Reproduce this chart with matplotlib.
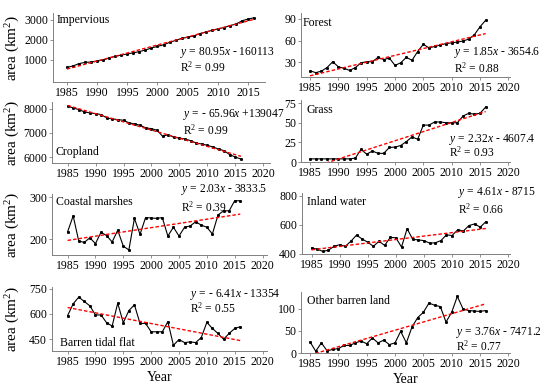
import numpy as np
import matplotlib
matplotlib.use("Agg")
from matplotlib import pyplot as plt

plt.rcParams['font.family'] = 'Liberation Serif'
plt.rcParams['mathtext.fontset'] = 'custom'
plt.rcParams['mathtext.rm'] = 'Liberation Serif'
plt.rcParams['mathtext.it'] = 'Liberation Serif:italic'

years = list(range(1985, 2017))

impervious = [630, 700, 820, 880, 900, 950, 1000, 1100, 1180, 1250, 1300, 1360, 1420, 1500, 1600, 1680,
              1760, 1880, 1980, 2080, 2140, 2200, 2320, 2400, 2480, 2560, 2620, 2720, 2800, 2960, 3050, 3110]
forest = [18.5, 16, 18, 23, 31, 24, 22, 19, 23, 29.5, 31, 31, 37, 34, 36, 26,
          29.5, 37, 33, 45, 55, 50, 52, 54, 56, 57, 58, 59.5, 62, 68, 79, 88]
cropland = [8096, 8027, 7959, 7863, 7822, 7795, 7753, 7616, 7575, 7548, 7521, 7411, 7370, 7315, 7205, 7178,
            7110, 6863, 6932, 6822, 6795, 6753, 6685, 6589, 6548, 6493, 6425, 6342, 6274, 6110, 6014, 5932]
grass = [4, 4, 4, 4, 4, 4, 4, 4, 5, 16, 10, 14, 11, 11, 18.5, 19,
         21, 26, 32, 29, 47, 47, 51, 51, 50, 50, 50, 58.5, 62, 61, 62, 70]
coastal = [218, 256, 196, 193, 204, 190, 217, 209, 194, 222, 184, 175, 250, 212, 252, 251,
           250, 252, 208, 229, 208, 229, 232, 242, 234, 229, 213, 258, 268, 268, 292, 292]
inland = [442, 433, 418, 426, 453, 464, 453, 488, 530, 503, 481, 453, 488, 459, 514, 512,
          448, 574, 501, 497, 492, 475, 477, 492, 532, 527, 567, 558, 596, 607, 585, 622]
tidal = [590, 660, 700, 674, 648, 594, 594, 548, 528, 664, 548, 620, 654, 544, 544, 494,
         494, 494, 554, 414, 448, 430, 434, 430, 460, 550, 514, 484, 450, 484, 514, 524]
other = [25, 4, 23, 5, 8, 10, 17, 17, 23, 27, 21, 34, 23, 29, 19, 23,
         49, 23, 59, 80, 92, 113, 108, 105, 70, 92, 128, 100, 96, 95, 94, 96]

names = ["Impervious", "Forest", "Cropland", "Grass",
         "Coastal marshes", "Inland water", "Barren tidal flat", "Other barren land"]
series = [impervious, forest, cropland, grass, coastal, inland, tidal, other]
equations = ["80.95$\\it{x}$ - 160113", "1.85$\\it{x}$ - 3654.6", "- 65.96$\\it{x}$ +139047",
             "2.32$\\it{x}$ - 4607.4", "2.03$\\it{x}$ - 3833.5", "4.61$\\it{x}$ - 8715",
             "- 6.41$\\it{x}$ - 13354", "3.76$\\it{x}$ - 7471.2"]
r2 = ["0.99", "0.88", "0.99", "0.93", "0.39", "0.66", "0.55", "0.77"]
yticks = [[1000, 2000, 3000], [30, 60, 90], [6000, 7000, 8000], [0, 25, 50, 75],
          [200, 300], [400, 600, 800], [450, 600, 750], [0, 50, 100]]
ylims = [(-100, 3350), (10, 98), (5770, 8270), (0, 79),
         (163, 308), (400, 820), (380, 760), (0, 138)]

W, H = 550, 387
# axes boxes in pixels: left, right, top, bottom
boxes = [(53, 265, 13, 82), (301, 510, 13, 77),
         (52, 270, 102, 163), (301, 510, 100, 162),
         (52, 267, 194, 255), (302, 510, 193, 254),
         (52, 267, 287, 351), (301, 510, 292, 353)]
xlims = [(1982.7, 2017.8), (1983.4, 2020.3), (1982.2, 2021.2), (1983.4, 2020.3),
         (1982.2, 2020.8), (1983.3, 2020.3), (1982.2, 2020.8), (1983.4, 2020.3)]
# label (x, y) and equation (x, y eq, y R2) in axes fractions
label_pos = [(0.015, 0.9), (0.01, 0.84), (0.015, 0.18), (0.025, 0.84),
             (0.02, 0.87), (0.025, 0.85), (0.035, 0.125), (0.03, 0.85)]
eq_pos = [(0.6, 0.43, 0.21), (0.73, 0.375, 0.14), (0.6, 0.79, 0.54), (0.71, 0.37, 0.15),
          (0.6, 1.07, 0.79), (0.75, 1.0, 0.74), (0.64, 0.875, 0.66), (0.74, 0.33, 0.11)]

fig = plt.figure(figsize=(5.5, 3.87), dpi=100)
x = np.array(years)

for i in range(8):
    l, r, t, b = boxes[i]
    ax = fig.add_axes([l / W, 1 - b / H, (r - l) / W, (b - t) / H])
    y = np.array(series[i])
    ax.plot(x, y, color='black', lw=0.8, marker='s', ms=1.1)
    # linear trend
    k, c = np.polyfit(x, y, 1)
    ax.plot(x, k * x + c, color='red', lw=1.0, ls=(0, (2.5, 1.5)))
    ax.set_xlim(*xlims[i])
    ax.set_ylim(*ylims[i])
    if xlims[i][1] > 2019:
        ax.set_xticks([1985, 1990, 1995, 2000, 2005, 2010, 2015, 2020])
    else:
        ax.set_xticks([1985, 1990, 1995, 2000, 2005, 2010, 2015])
    ax.set_yticks(yticks[i])
    ax.tick_params(labelsize=8.5, length=2, width=0.6, color='gray', pad=1.5)
    ax.spines['top'].set_visible(False)
    ax.spines['right'].set_visible(False)
    ax.spines['left'].set_color('gray')
    ax.spines['bottom'].set_color('gray')
    ax.spines['left'].set_linewidth(0.7)
    ax.spines['bottom'].set_linewidth(0.7)
    lx, ly = label_pos[i]
    ax.text(lx, ly, names[i], transform=ax.transAxes, fontsize=8.5, va='center', ha='left')
    ex, ey, er = eq_pos[i]
    ax.text(ex, ey, "$\\it{y}$ = " + equations[i], transform=ax.transAxes, fontsize=8.3,
            va='center', ha='left', clip_on=False)
    ax.text(ex, er, "R$^2$ = " + r2[i], transform=ax.transAxes, fontsize=8.3,
            va='center', ha='left', clip_on=False)
    if i % 2 == 0:
        ax.set_ylabel("area (km$^2$)", fontsize=11)
        ax.yaxis.set_label_coords(-(l - 22) / (r - l), 0.5)
    if i >= 6:
        ax.set_xlabel("Year", fontsize=10, labelpad=2)

fig.savefig("out.png", dpi=100)
